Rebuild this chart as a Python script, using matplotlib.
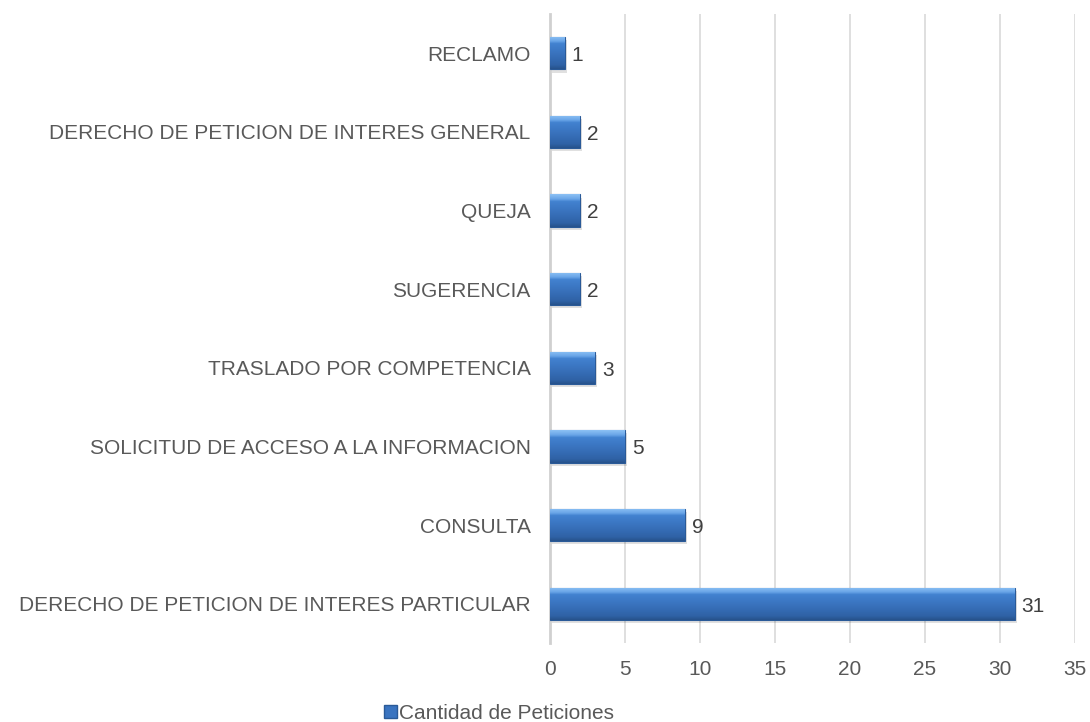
import numpy as np
import matplotlib.pyplot as plt
from matplotlib.patches import Patch
from matplotlib.colors import LinearSegmentedColormap

categories = [
    "DERECHO DE PETICION DE INTERES PARTICULAR",
    "CONSULTA",
    "SOLICITUD DE ACCESO A LA INFORMACION",
    "TRASLADO POR COMPETENCIA",
    "SUGERENCIA",
    "QUEJA",
    "DERECHO DE PETICION DE INTERES GENERAL",
    "RECLAMO",
]
values = [31, 9, 5, 3, 2, 2, 2, 1]
x_ticks = [0, 5, 10, 15, 20, 25, 30, 35]
series_name = "Cantidad de Peticiones"

plt.rcParams['font.family'] = ['Liberation Sans', 'DejaVu Sans']
FS = 15

fig = plt.figure(figsize=(10.9, 7.22), dpi=100)
ax = fig.add_axes([0.5046, 0.1094, 0.4816, 0.8712])

y = np.arange(len(categories))
bars = ax.barh(y, values, height=0.41, color='#3a74c0', edgecolor='#2a5a98',
               linewidth=0.8, zorder=3)

# bevel-like vertical gradient inside each bar
grad = np.linspace(0, 1, 64).reshape(-1, 1)
cmap = LinearSegmentedColormap.from_list(
    'bev', [(0.0, '#27528c'), (0.12, '#2f62a6'), (0.5, '#3a74c0'),
            (0.78, '#4282d0'), (0.86, '#6aa6e8'), (1.0, '#8cc0f4')])
for b in bars:
    x0, y0 = b.get_x(), b.get_y()
    w, h = b.get_width(), b.get_height()
    im = ax.imshow(grad, cmap=cmap, aspect='auto', origin='lower',
                   extent=[x0, x0 + w, y0, y0 + h], zorder=4)
    im.set_clip_path(b)
    # soft shadow
    ax.barh(y0 + h / 2 - 0.04, w, left=x0 + 0.12, height=h, color='#000000',
            alpha=0.12, zorder=2, linewidth=0)

for yi, v in zip(y, values):
    ax.text(v + 0.45, yi - 0.03, str(v), va='center', ha='left',
            fontsize=FS, color='#404040', zorder=5)

ax.set_xlim(0, 35)
ax.set_ylim(-0.5, len(categories) - 0.5)
ax.set_xticks(x_ticks)
ax.set_yticks(y)
ax.set_yticklabels(categories)
ax.tick_params(axis='both', length=0, labelsize=FS, labelcolor='#595959')
ax.tick_params(axis='x', pad=12)
ax.tick_params(axis='y', pad=14)
ax.xaxis.grid(True, color='#d9d9d9', linewidth=1.2, zorder=0)
ax.set_axisbelow(True)
for s in ['top', 'right', 'bottom']:
    ax.spines[s].set_visible(False)
ax.spines['left'].set_color('#d0d0d0')
ax.spines['left'].set_linewidth(2)
ax.spines['left'].set_zorder(1)

handle = Patch(facecolor='#3a74c0', edgecolor='#2a5a98')
fig.legend([handle], [series_name], loc='lower center',
           bbox_to_anchor=(0.458, -0.027), frameon=False, fontsize=FS,
           handlelength=0.6, handleheight=0.6, handletextpad=0.1,
           labelcolor='#595959')

fig.savefig('out.png', dpi=100)
